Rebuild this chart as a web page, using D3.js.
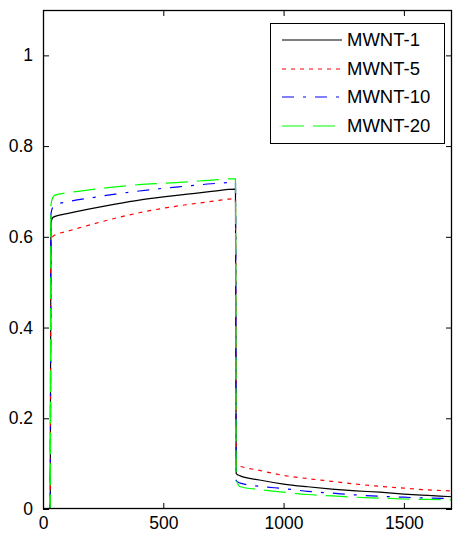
<!DOCTYPE html>
<html>
<head>
<meta charset="utf-8">
<script src="https://cdn.jsdelivr.net/npm/d3@7"></script>
<style>
  html, body { margin: 0; padding: 0; background: #fff; }
  svg { display: block; }
  text { font-family: "Liberation Sans", Arial, sans-serif; }
</style>
</head>
<body>
<div id="chart"></div>
<script>
// ---- data ----
const time = [0, 30, 33, 40, 50, 100, 200, 300, 400, 500, 600, 700, 800, 803, 820, 900, 1000, 1100, 1200, 1300, 1400, 1500, 1600, 1700];
const mwnt1  = [0, 0, 0.630, 0.642, 0.645, 0.651, 0.662, 0.672, 0.681, 0.688, 0.694, 0.700, 0.705, 0.078, 0.073, 0.064, 0.055, 0.049, 0.044, 0.040, 0.037, 0.033, 0.030, 0.027];
const mwnt5  = [0, 0, 0.580, 0.600, 0.604, 0.612, 0.627, 0.641, 0.653, 0.663, 0.671, 0.678, 0.684, 0.097, 0.094, 0.085, 0.074, 0.067, 0.061, 0.055, 0.050, 0.046, 0.042, 0.040];
const mwnt10 = [0, 0, 0.650, 0.665, 0.670, 0.677, 0.686, 0.694, 0.701, 0.707, 0.712, 0.717, 0.720, 0.062, 0.057, 0.050, 0.045, 0.039, 0.035, 0.031, 0.028, 0.026, 0.024, 0.023];
const mwnt20 = [0, 0, 0.670, 0.686, 0.692, 0.697, 0.704, 0.710, 0.715, 0.718, 0.721, 0.725, 0.728, 0.065, 0.049, 0.043, 0.037, 0.032, 0.029, 0.026, 0.024, 0.022, 0.021, 0.020];
const seriesNames = ["MWNT-1", "MWNT-5", "MWNT-10", "MWNT-20"];
const xTicks = [0, 500, 1000, 1500];
const yTicks = [0, 0.2, 0.4, 0.6, 0.8, 1];
const xDomain = [0, 1700];
const yDomain = [0, 1.1];

(function () {
// ---- styles ----
const styles = [
  { color: "#000000", dash: null },
  { color: "#ff0000", dash: "4,5" },
  { color: "#0000ff", dash: "12,9,3,9" },
  { color: "#00ff00", dash: "22,9" }
];
const seriesValues = [mwnt1, mwnt5, mwnt10, mwnt20];

const W = 454, H = 537;
const pL = 43, pR = 452, pT = 10, pB = 509;

const svg = d3.select("#chart").append("svg").attr("width", W).attr("height", H);

const x = d3.scaleLinear().domain(xDomain).range([pL, pR]);
const y = d3.scaleLinear().domain(yDomain).range([pB, pT]);

svg.append("defs").append("clipPath").attr("id", "clip")
  .append("rect").attr("x", pL).attr("y", pT).attr("width", pR - pL).attr("height", pB - pT);

const fmtY = d => d === 0 ? "0" : (d === 1 ? "1" : d3.format(".1f")(d));

function styleAxis(g) {
  g.select(".domain").remove();
  g.selectAll(".tick line").attr("stroke", "#000").attr("stroke-width", 1);
  g.selectAll(".tick text").attr("fill", "#000").style("font-size", "17.5px")
    .style("font-family", "'Liberation Sans', Arial, sans-serif");
}

svg.append("g").attr("transform", `translate(0,${pB})`)
  .call(d3.axisBottom(x).tickValues(xTicks).tickSize(-6).tickPadding(8).tickFormat(d3.format("d")))
  .call(styleAxis);
svg.append("g").attr("transform", `translate(0,${pT})`)
  .call(d3.axisTop(x).tickValues(xTicks).tickSize(-6).tickFormat(""))
  .call(styleAxis);
svg.append("g").attr("transform", `translate(${pL},0)`)
  .call(d3.axisLeft(y).tickValues(yTicks).tickSize(-6).tickPadding(10).tickFormat(fmtY))
  .call(styleAxis);
svg.append("g").attr("transform", `translate(${pR},0)`)
  .call(d3.axisRight(y).tickValues(yTicks).tickSize(-6).tickFormat(""))
  .call(styleAxis);

// lines
const line = d3.line().x(d => x(d[0])).y(d => y(d[1])).curve(d3.curveMonotoneX);
const plot = svg.append("g").attr("clip-path", "url(#clip)");
seriesValues.forEach((vals, i) => {
  const pts = time.map((t, k) => [t, vals[k]]);
  plot.append("path").datum(pts)
    .attr("d", line)
    .attr("fill", "none")
    .attr("stroke", styles[i].color)
    .attr("stroke-width", 1.2)
    .attr("stroke-dasharray", styles[i].dash);
});

// frame
svg.append("rect").attr("x", pL + 0.5).attr("y", pT + 0.5)
  .attr("width", pR - pL - 1).attr("height", pB - pT - 1)
  .attr("fill", "none").attr("stroke", "#000").attr("stroke-width", 1.3);

// legend
const lg = svg.append("g");
lg.append("rect").attr("x", 270.5).attr("y", 23.5).attr("width", 174).attr("height", 120)
  .attr("fill", "#fff").attr("stroke", "#000").attr("stroke-width", 1);
const legY = [40, 69, 97, 126];
seriesNames.forEach((name, i) => {
  lg.append("line").attr("x1", 282).attr("x2", 342).attr("y1", legY[i]).attr("y2", legY[i])
    .attr("stroke", styles[i].color).attr("stroke-width", 1.2)
    .attr("stroke-dasharray", styles[i].dash);
  lg.append("text").attr("x", 347).attr("y", legY[i]).attr("dy", "0.35em")
    .attr("fill", "#000").style("font-size", "18.5px").text(name);
});
})();
</script>
</body>
</html>
